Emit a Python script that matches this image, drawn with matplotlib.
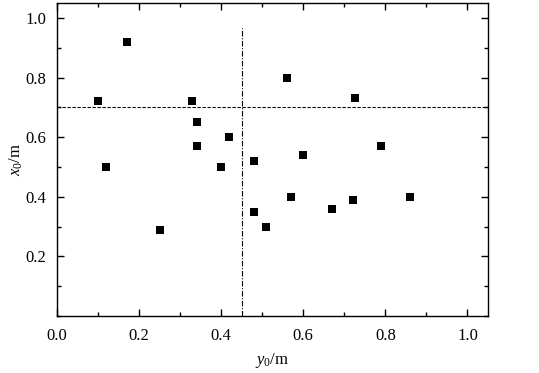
import matplotlib
matplotlib.use("Agg")
import matplotlib.pyplot as plt
from matplotlib.ticker import MultipleLocator

y0 = [0.10, 0.17, 0.12, 0.33, 0.34, 0.34, 0.42, 0.40, 0.48, 0.25, 0.48, 0.51,
      0.56, 0.725, 0.60, 0.79, 0.57, 0.67, 0.72, 0.86]
x0 = [0.72, 0.92, 0.50, 0.72, 0.65, 0.57, 0.60, 0.50, 0.52, 0.29, 0.35, 0.30,
      0.80, 0.73, 0.54, 0.57, 0.40, 0.36, 0.39, 0.40]
h_line = 0.7
v_line = 0.45
v_line_top = 0.967

plt.rcParams['font.family'] = ['Liberation Serif', 'DejaVu Serif']
plt.rcParams['mathtext.fontset'] = 'custom'
plt.rcParams['mathtext.rm'] = 'Liberation Serif'
plt.rcParams['mathtext.it'] = 'Liberation Serif:italic'

fig = plt.figure(figsize=(5.39, 3.73), dpi=100)
ax = fig.add_axes([57/539, 1-316/373, (488-57)/539, (316-3)/373])

ax.scatter(y0, x0, marker='s', s=30, color='black', zorder=3, linewidths=0)
ax.axhline(h_line, color='black', lw=0.8, ls=(0, (3, 1.5)))
ax.plot([v_line, v_line], [0, v_line_top], color='black', lw=0.8, ls=(0, (5, 1.5, 1, 1.5)))

ax.set_xlim(0, 1.05)
ax.set_ylim(0, 1.05)
ax.xaxis.set_minor_locator(MultipleLocator(0.1))
ax.yaxis.set_minor_locator(MultipleLocator(0.1))
ax.set_xticks([0.0, 0.2, 0.4, 0.6, 0.8, 1.0])
ax.set_yticks([0.2, 0.4, 0.6, 0.8, 1.0])
ax.xaxis.set_major_formatter(plt.FormatStrFormatter('%.1f'))
ax.yaxis.set_major_formatter(plt.FormatStrFormatter('%.1f'))
ax.tick_params(which='both', direction='in', top=True, right=True, labelsize=12, width=1)
ax.tick_params(axis='x', which='both', pad=9)
ax.tick_params(axis='y', which='both', pad=8)
ax.tick_params(which='major', length=5)
ax.tick_params(which='minor', length=3)
for s in ax.spines.values():
    s.set_linewidth(1)

ax.set_xlabel(r'$y_0$/m', fontsize=12, labelpad=5)
ax.set_ylabel(r'$x_0$/m', fontsize=12, labelpad=0)

fig.savefig('out.png', dpi=100)
